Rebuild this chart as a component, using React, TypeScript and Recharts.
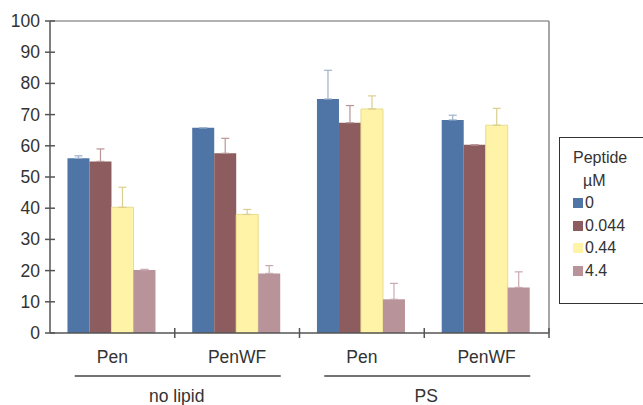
import { BarChart, Bar, XAxis, YAxis, ErrorBar, ReferenceLine } from 'recharts'

document.body.style.margin = '0'

const categories = ['nl-Pen', 'nl-PenWF', 'ps-Pen', 'ps-PenWF']
const categoryLabels = ['Pen', 'PenWF', 'Pen', 'PenWF']
const groupLabels = ['no lipid', 'PS']
const yTicks = [0, 10, 20, 30, 40, 50, 60, 70, 80, 90, 100]

const seriesNames = ['0', '0.044', '0.44', '4.4']
const conc0 = [56, 65.8, 75, 68.3]
const conc0Err = [0.8, 0, 9.2, 1.5]
const conc1 = [55, 57.6, 67.4, 60.3]
const conc1Err = [4, 4.8, 5.5, 0]
const conc2 = [40.3, 38, 71.8, 66.6]
const conc2Err = [6.4, 1.6, 4.2, 5.4]
const conc3 = [20.2, 19.1, 10.8, 14.6]
const conc3Err = [0.2, 2.5, 5.1, 5]

const COLORS = ['#4e75a6', '#8c5c5e', '#fff3a8', '#b8939a']
const ERR_COLORS = ['#9fb2cc', '#b99597', '#d9cf8e', '#c9aab0']

const data = categories.map((key, i) => ({
  key,
  s0: conc0[i],
  e0: [0, conc0Err[i]],
  s1: conc1[i],
  e1: [0, conc1Err[i]],
  s2: conc2[i],
  e2: [0, conc2Err[i]],
  s3: conc3[i],
  e3: [0, conc3Err[i]],
}))

const FONT = '"Liberation Sans", Arial, sans-serif'

function YTick(props: any) {
  const { x, y, payload } = props
  return (
    <g>
      <line x1={x - 5} x2={x + 5} y1={y} y2={y} stroke="#555" strokeWidth={1.5} />
      <text x={x - 10} y={y} dy={6} textAnchor="end" fontSize={17.5} fill="#333" fontFamily={FONT}>
        {payload.value}
      </text>
    </g>
  )
}

function XTick(props: any) {
  const { x, y, index, payload } = props
  const half = payload.offset || 62.4
  const left = x - half
  const right = x + half
  return (
    <g>
      {index > 0 && <line x1={left} x2={left} y1={y - 5} y2={y + 5} stroke="#555" strokeWidth={1.5} />}
      {index === categories.length - 1 && (
        <line x1={right} x2={right} y1={y - 5} y2={y + 5} stroke="#555" strokeWidth={1.5} />
      )}
      <text x={x} y={y + 30} textAnchor="middle" fontSize={17.5} fill="#333" fontFamily={FONT}>
        {categoryLabels[index]}
      </text>
      {index % 2 === 1 && (
        <g>
          <line x1={left + 3 - 103} x2={left + 3 + 103} y1={y + 43} y2={y + 43} stroke="#444" strokeWidth={1.5} />
          <text x={left + 2} y={y + 69} textAnchor="middle" fontSize={17.5} fill="#333" fontFamily={FONT}>
            {groupLabels[(index - 1) / 2]}
          </text>
        </g>
      )}
    </g>
  )
}

function LegendBox() {
  return (
    <div
      style={{
        position: 'absolute',
        left: 559,
        top: 137,
        border: '1.5px solid #333',
        width: 100,
        height: 167,
        boxSizing: 'border-box',
        fontFamily: FONT,
        fontSize: 16,
        color: '#333',
        paddingLeft: 13,
        paddingTop: 9,
        lineHeight: '22.5px',
        background: '#fff',
      }}
    >
      <div>Peptide</div>
      <div style={{ paddingLeft: 10 }}>µM</div>
      {seriesNames.map((name, i) => (
        <div key={name} style={{ display: 'flex', alignItems: 'center' }}>
          <span style={{ width: 10, height: 10, background: COLORS[i], display: 'inline-block', marginRight: 2 }} />
          <span>{name}</span>
        </div>
      ))}
    </div>
  )
}

export default function App() {
  return (
    <div style={{ position: 'relative', width: 643, height: 405, overflow: 'hidden', background: '#fff' }}>
      <BarChart
        width={643}
        height={405}
        data={data}
        margin={{ top: 21, right: 93, bottom: 0, left: 0 }}
        barCategoryGap="14%"
        barGap={0}
      >
        <XAxis
          dataKey="key"
          height={72}
          tickLine={false}
          tickSize={0}
          tickMargin={0}
          axisLine={{ stroke: '#555', strokeWidth: 1.5 }}
          tick={<XTick />}
          interval={0}
        />
        <YAxis
          yAxisId="l"
          width={50}
          domain={[0, 100]}
          ticks={yTicks}
          tickLine={false}
          tickSize={0}
          tickMargin={0}
          axisLine={{ stroke: '#555', strokeWidth: 1.5 }}
          tick={<YTick />}
          interval={0}
        />
        <YAxis
          yAxisId="r"
          orientation="right"
          width={1}
          domain={[0, 100]}
          tick={false}
          tickLine={false}
          axisLine={{ stroke: '#888', strokeWidth: 1.5 }}
        />
        <ReferenceLine yAxisId="l" y={100} stroke="#999" strokeWidth={1.5} />
        {['s0', 's1', 's2', 's3'].map((k, i) => (
          <Bar
            key={k}
            yAxisId="l"
            dataKey={k}
            name={seriesNames[i]}
            fill={COLORS[i]}
            stroke={i === 2 ? '#e8dc8c' : 'none'}
            isAnimationActive={false}
          >
            <ErrorBar dataKey={`e${i}`} width={4} stroke={ERR_COLORS[i]} strokeWidth={1.2} direction="y" />
          </Bar>
        ))}
      </BarChart>
      <LegendBox />
    </div>
  )
}
